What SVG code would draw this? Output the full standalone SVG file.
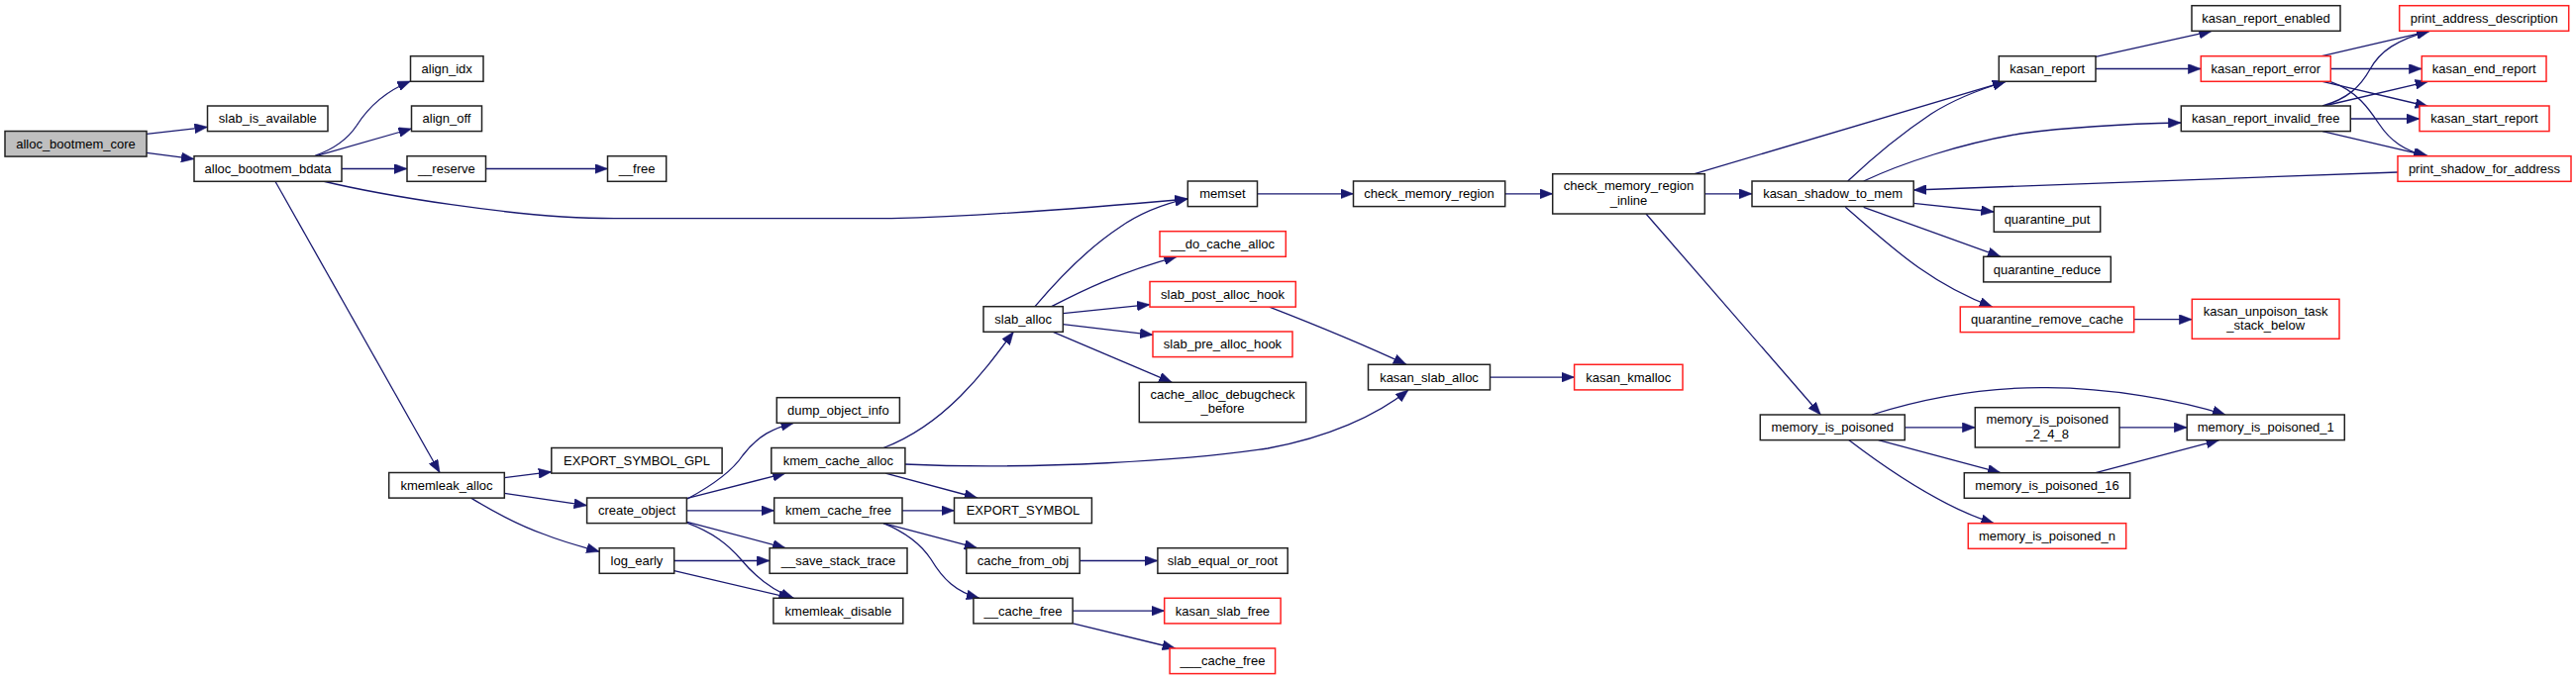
<svg xmlns="http://www.w3.org/2000/svg" width="2601" height="687" viewBox="0 0 2601 687">
<style>
.node rect{fill:#fff;stroke:#222;stroke-width:1.5}
.node.root rect{fill:#bfbfbf}
.node.red rect{stroke:#ff2020}
text{font-family:"Liberation Sans",Arial,Helvetica,sans-serif;font-size:13px;text-anchor:middle;fill:#000}
.edges path{fill:none;stroke:#191970;stroke-width:1.3;marker-end:url(#arr)}
</style>
<defs>
<marker id="arr" markerUnits="userSpaceOnUse" viewBox="0 0 13 10" markerWidth="13" markerHeight="10" refX="13" refY="5" orient="auto"><path d="M0,0 L13,5 L0,10 z" fill="#191970" stroke="#191970" stroke-width="0.5"/></marker>
</defs>
<rect width="2601" height="687" fill="#fff"/>
<g class="edges">
<path d="M148,135.3 L209.5,128.3"/>
<path d="M148,154.3 L196,160.7"/>
<path d="M318,157.3 C336,151 350,142 360,127 C372,108 390,92 414.5,82"/>
<path d="M320,157.3 L415.5,130"/>
<path d="M345,170.5 L411,170.5"/>
<path d="M326,183 C380,196 520,220.7 620,220.7 L900,220.7 C1000,218 1100,210 1199.3,201"/>
<path d="M277.8,183 L444,477.5"/>
<path d="M490.5,170.5 L613.5,170.5"/>
<path d="M1269.5,195.8 L1366.5,195.8"/>
<path d="M1519.7,195.8 L1567.7,195.8"/>
<path d="M1721.3,195.8 L1769,195.8"/>
<path d="M1711,175.7 L2025,82.3"/>
<path d="M1662,216 L1838.3,419"/>
<path d="M1865.7,183 C1890,160 1920,135 1950,115 C1975,99 2000,90 2025,82.5"/>
<path d="M1881.7,183 C1920,165 1980,145 2040,135 C2100,127 2150,125 2202.3,124"/>
<path d="M1932,205.3 L2013.3,214"/>
<path d="M1881.7,209.3 L2020,259.3"/>
<path d="M1863.3,209.3 C1905,245 1945,285 2011.7,310"/>
<path d="M2421,174 L1932.2,192"/>
<path d="M2116,57.3 L2233.3,31.3"/>
<path d="M2116,69.5 L2222.3,69.5"/>
<path d="M2344.3,56.7 L2453.3,31.3"/>
<path d="M2353.3,69.5 L2445.3,69.5"/>
<path d="M2345,82.3 L2451.7,107.5"/>
<path d="M2353.3,82.7 C2380,92 2392,110 2402,125 C2414,143 2428,152 2450,157.7"/>
<path d="M2345,107 C2370,100 2383,88 2393,70 C2403,52 2420,40 2453,31.3"/>
<path d="M2346.7,107 L2451.7,82.3"/>
<path d="M2373.3,120 L2443,120"/>
<path d="M2345,132.7 L2451.7,157.7"/>
<path d="M2154.7,322.7 L2213.3,322.7"/>
<path d="M1890,419 C1950,400 2010,391 2067,391.7 C2130,392 2200,404 2247,419"/>
<path d="M1923.3,431.8 L1994.3,431.8"/>
<path d="M1896.7,444.6 L2020,477.7"/>
<path d="M1866.7,444.6 C1900,470 1960,512 2013.3,528.7"/>
<path d="M2140,431.8 L2208.2,431.8"/>
<path d="M2116,477.7 L2240.6,444.6"/>
<path d="M509.3,482.7 L556.8,476.7"/>
<path d="M509.3,498.3 L592.6,510.7"/>
<path d="M475.6,503.1 C500,518 530,533 550,540 C570,548 590,553 605.2,557.3"/>
<path d="M694,504 C720,490 740,475 750,460 C765,440 782,432 801.5,427.3"/>
<path d="M694,503.3 L793.1,478.1"/>
<path d="M693.4,515.8 L781.7,515.8"/>
<path d="M694,527.3 L793.1,553.7"/>
<path d="M694,528.3 C720,538 735,550 748,565 C762,582 778,596 801.5,604.3"/>
<path d="M680.7,566.5 L777.1,566.5"/>
<path d="M680.7,576.7 L799.4,604.3"/>
<path d="M892,452.5 C925,440 950,420 970,400 C990,380 1005,360 1023.3,335.3"/>
<path d="M913.3,469 C1050,475 1200,465 1280,453 C1340,442 1390,420 1422,394"/>
<path d="M894.1,478.1 L986.7,503"/>
<path d="M911,515.8 L963.5,515.8"/>
<path d="M892,528.6 L986.7,553.7"/>
<path d="M892,528.6 C915,538 930,550 940,565 C952,585 965,598 988.8,604.3"/>
<path d="M1090.2,566.5 L1168.9,566.5"/>
<path d="M1083.1,617.1 L1175.7,617.1"/>
<path d="M1083.5,629.9 L1186.6,655"/>
<path d="M1045,309.7 C1070,280 1100,250 1130,230 C1150,216 1175,206 1199.3,200.7"/>
<path d="M1061.7,309.7 C1090,295 1130,275 1188.3,259.3"/>
<path d="M1073.3,316.7 L1161,307.7"/>
<path d="M1073.3,327.7 L1164,338.3"/>
<path d="M1063.3,335.3 L1183.3,386.3"/>
<path d="M1281.7,310.1 C1320,325 1370,345 1420,368.3"/>
<path d="M1504.5,381.1 L1589.6,381.1"/>
</g>
<g id="n_alloc_bootmem_core" class="node root"><rect x="5" y="132.5" width="143" height="25.6"/><text x="76.5" y="149.8">alloc_bootmem_core</text></g>
<g id="n_slab_is_available" class="node"><rect x="209.5" y="107" width="121.5" height="25.6"/><text x="270.3" y="124.3">slab_is_available</text></g>
<g id="n_alloc_bootmem_bdata" class="node"><rect x="196" y="157.7" width="149" height="25.6"/><text x="270.5" y="175">alloc_bootmem_bdata</text></g>
<g id="n_align_idx" class="node"><rect x="414.5" y="56.7" width="73.5" height="25.6"/><text x="451.2" y="74">align_idx</text></g>
<g id="n_align_off" class="node"><rect x="415.5" y="107" width="71" height="25.6"/><text x="451" y="124.3">align_off</text></g>
<g id="n_reserve" class="node"><rect x="411" y="157.7" width="79.5" height="25.6"/><text x="450.8" y="175">__reserve</text></g>
<g id="n_free" class="node"><rect x="613.5" y="157.7" width="59.2" height="25.6"/><text x="643.1" y="175">__free</text></g>
<g id="n_memset" class="node"><rect x="1199.3" y="183" width="70.2" height="25.6"/><text x="1234.4" y="200.3">memset</text></g>
<g id="n_check_memory_region" class="node"><rect x="1366.5" y="183" width="153.2" height="25.6"/><text x="1443.1" y="200.3">check_memory_region</text></g>
<g id="n_check_memory_region_inline" class="node"><rect x="1567.7" y="175.7" width="153.6" height="40.3"/><text x="1644.5" y="192.2">check_memory_region</text><text x="1644.5" y="206.7">_inline</text></g>
<g id="n_kasan_shadow_to_mem" class="node"><rect x="1769" y="183" width="163.2" height="25.6"/><text x="1850.6" y="200.3">kasan_shadow_to_mem</text></g>
<g id="n_kasan_report" class="node"><rect x="2018.3" y="56.7" width="97.7" height="25.6"/><text x="2067.2" y="74">kasan_report</text></g>
<g id="n_kasan_report_enabled" class="node"><rect x="2213" y="5.7" width="150" height="25.6"/><text x="2288" y="23">kasan_report_enabled</text></g>
<g id="n_kasan_report_error" class="node red"><rect x="2222.3" y="56.7" width="131" height="25.6"/><text x="2287.8" y="74">kasan_report_error</text></g>
<g id="n_print_address_description" class="node red"><rect x="2422.7" y="5.7" width="171" height="25.6"/><text x="2508.2" y="23">print_address_description</text></g>
<g id="n_kasan_end_report" class="node red"><rect x="2445.3" y="56.7" width="125.7" height="25.6"/><text x="2508.2" y="74">kasan_end_report</text></g>
<g id="n_kasan_start_report" class="node red"><rect x="2443" y="107" width="131" height="25.6"/><text x="2508.5" y="124.3">kasan_start_report</text></g>
<g id="n_print_shadow_for_address" class="node red"><rect x="2421" y="157.7" width="175" height="25.6"/><text x="2508.5" y="175">print_shadow_for_address</text></g>
<g id="n_kasan_report_invalid_free" class="node"><rect x="2202.3" y="107" width="171" height="25.6"/><text x="2287.8" y="124.3">kasan_report_invalid_free</text></g>
<g id="n_quarantine_put" class="node"><rect x="2013.3" y="208.7" width="107.4" height="25.6"/><text x="2067" y="226">quarantine_put</text></g>
<g id="n_quarantine_reduce" class="node"><rect x="2002.7" y="259.3" width="128.6" height="25.6"/><text x="2067" y="276.6">quarantine_reduce</text></g>
<g id="n_quarantine_remove_cache" class="node red"><rect x="1979.3" y="310" width="175.4" height="25.6"/><text x="2067" y="327.3">quarantine_remove_cache</text></g>
<g id="n_kasan_unpoison_task_stack_below" class="node red"><rect x="2213.3" y="302.3" width="148.7" height="40"/><text x="2287.7" y="318.8">kasan_unpoison_task</text><text x="2287.7" y="333.3">_stack_below</text></g>
<g id="n_memory_is_poisoned" class="node"><rect x="1777.3" y="419" width="146" height="25.6"/><text x="1850.3" y="436.3">memory_is_poisoned</text></g>
<g id="n_memory_is_poisoned_2_4_8" class="node"><rect x="1994.3" y="411.7" width="145.7" height="40.3"/><text x="2067.2" y="428.2">memory_is_poisoned</text><text x="2067.2" y="442.7">_2_4_8</text></g>
<g id="n_memory_is_poisoned_1" class="node"><rect x="2208.2" y="419" width="159.1" height="25.6"/><text x="2287.8" y="436.3">memory_is_poisoned_1</text></g>
<g id="n_memory_is_poisoned_16" class="node"><rect x="1983.3" y="477.7" width="167.4" height="25.6"/><text x="2067" y="495">memory_is_poisoned_16</text></g>
<g id="n_memory_is_poisoned_n" class="node red"><rect x="1987.3" y="528.7" width="159.4" height="25.6"/><text x="2067" y="546">memory_is_poisoned_n</text></g>
<g id="n_kmemleak_alloc" class="node"><rect x="392.7" y="477.5" width="116.6" height="25.6"/><text x="451" y="494.8">kmemleak_alloc</text></g>
<g id="n_EXPORT_SYMBOL_GPL" class="node"><rect x="556.8" y="452.5" width="172.3" height="25.6"/><text x="643" y="469.8">EXPORT_SYMBOL_GPL</text></g>
<g id="n_create_object" class="node"><rect x="592.6" y="503" width="100.8" height="25.6"/><text x="643" y="520.3">create_object</text></g>
<g id="n_log_early" class="node"><rect x="605.2" y="553.7" width="75.5" height="25.6"/><text x="643" y="571">log_early</text></g>
<g id="n_dump_object_info" class="node"><rect x="784.3" y="401.7" width="124.1" height="25.6"/><text x="846.4" y="419">dump_object_info</text></g>
<g id="n_kmem_cache_alloc" class="node"><rect x="778.8" y="452.5" width="135.1" height="25.6"/><text x="846.4" y="469.8">kmem_cache_alloc</text></g>
<g id="n_kmem_cache_free" class="node"><rect x="781.7" y="503" width="129.3" height="25.6"/><text x="846.4" y="520.3">kmem_cache_free</text></g>
<g id="n_save_stack_trace" class="node"><rect x="777.1" y="553.7" width="138.9" height="25.6"/><text x="846.5" y="571">__save_stack_trace</text></g>
<g id="n_kmemleak_disable" class="node"><rect x="780.9" y="604.3" width="130.9" height="25.6"/><text x="846.4" y="621.6">kmemleak_disable</text></g>
<g id="n_EXPORT_SYMBOL" class="node"><rect x="963.5" y="503" width="138.9" height="25.6"/><text x="1033" y="520.3">EXPORT_SYMBOL</text></g>
<g id="n_cache_from_obj" class="node"><rect x="975.8" y="553.7" width="114.4" height="25.6"/><text x="1033" y="571">cache_from_obj</text></g>
<g id="n_slab_equal_or_root" class="node"><rect x="1168.9" y="553.7" width="131.3" height="25.6"/><text x="1234.5" y="571">slab_equal_or_root</text></g>
<g id="n_cache_free" class="node"><rect x="982.9" y="604.3" width="100.2" height="25.6"/><text x="1033" y="621.6">__cache_free</text></g>
<g id="n_kasan_slab_free" class="node red"><rect x="1175.7" y="604.3" width="117.4" height="25.6"/><text x="1234.4" y="621.6">kasan_slab_free</text></g>
<g id="n_cache_free3" class="node red"><rect x="1181.1" y="655" width="106.5" height="25.6"/><text x="1234.4" y="672.3">___cache_free</text></g>
<g id="n_slab_alloc" class="node"><rect x="993" y="309.7" width="80.3" height="25.6"/><text x="1033.2" y="327">slab_alloc</text></g>
<g id="n_do_cache_alloc" class="node red"><rect x="1171" y="233.7" width="127.3" height="25.6"/><text x="1234.6" y="251">__do_cache_alloc</text></g>
<g id="n_slab_post_alloc_hook" class="node red"><rect x="1161" y="284.5" width="147.3" height="25.6"/><text x="1234.6" y="301.8">slab_post_alloc_hook</text></g>
<g id="n_slab_pre_alloc_hook" class="node red"><rect x="1164" y="335" width="141" height="25.6"/><text x="1234.5" y="352.3">slab_pre_alloc_hook</text></g>
<g id="n_cache_alloc_debugcheck_before" class="node"><rect x="1150.3" y="386.3" width="168.4" height="40.3"/><text x="1234.5" y="402.8">cache_alloc_debugcheck</text><text x="1234.5" y="417.3">_before</text></g>
<g id="n_kasan_slab_alloc" class="node"><rect x="1381.5" y="368.3" width="123" height="25.6"/><text x="1443" y="385.6">kasan_slab_alloc</text></g>
<g id="n_kasan_kmalloc" class="node red"><rect x="1589.6" y="368.3" width="109.4" height="25.6"/><text x="1644.3" y="385.6">kasan_kmalloc</text></g>
</svg>
